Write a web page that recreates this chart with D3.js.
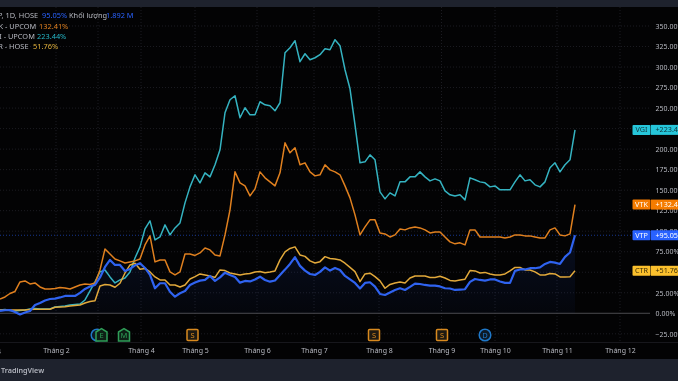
<!DOCTYPE html>
<html>
<head>
<meta charset="utf-8">
<script src="https://cdn.jsdelivr.net/npm/d3@7"></script>
<style>
  html, body { margin: 0; padding: 0; background: #030304; overflow: hidden; }
  svg { display: block; filter: blur(0.35px); }
  text { font-family: "Noto Sans", sans-serif; }
</style>
</head>
<body>
<svg id="chart" width="678" height="381"></svg>
<script>
const vgiValues = [
  4, 4.6, 3.4, 2.8, 3.4, 4, 5.2, 5.9, 5.2, 5.2,
  5.2, 7.7, 8.3, 8.9, 10.1, 10.7, 11.3, 16.2, 27.2, 38.2,
  50.4, 52.8, 44.3, 37, 40.6, 43, 50.4, 67.4, 80.9, 102.8,
  112.6, 89.4, 93, 107.7, 95.5, 104, 110.1, 134.5, 154, 168.7,
  158.9, 171.1, 166.2, 180.9, 199.1, 244.3, 260.1, 265, 238.2, 250.4,
  241.8, 241.8, 257.7, 254, 252.8, 246.7, 256.5, 317.4, 323.5, 332.1,
  306.5, 316.2, 308.9, 311.3, 315, 322.3, 321.1, 333.3, 326, 296.7,
  273.5, 229.6, 183.3, 184.5, 193, 187, 147.9, 139.4, 146.7, 143,
  160.1, 160.1, 166.2, 166.2, 172.3, 166.2, 161.3, 163.8, 161.3, 149.1,
  144.3, 143, 144.3, 138.2, 165, 162.6, 160.1, 158.9, 154, 155.2,
  150.4, 150.4, 150.4, 160.1, 168.7, 161.3, 162.6, 156.5, 154, 160.1,
  177.2, 183.3, 172.3, 180.9, 187, 223.44
];
const vtkValues = [
  17.4, 19.9, 24.1, 26.6, 38.2, 39.4, 35.7, 37, 32.1, 29.6,
  29.6, 30.2, 31.5, 30.9, 29.6, 32.1, 34.5, 35.7, 35.1, 37,
  52.8, 78.4, 72.3, 66.2, 63.8, 61.3, 62.6, 63.8, 66.2, 83.3,
  94.3, 62.6, 65, 65, 50.4, 46.7, 50.4, 72.3, 72.3, 70.5,
  73.5, 79.6, 77.2, 71.1, 69.9, 95.5, 126, 172.3, 158.9, 155.2,
  143, 151.6, 172.3, 165, 160.1, 155.2, 171.1, 207.7, 195.5, 201.6,
  180.9, 183.3, 172.3, 167.4, 168.7, 180.9, 174.7, 172.3, 168.7, 155.2,
  140.6, 119.9, 95.5, 105.2, 113.8, 113.8, 97.9, 96.7, 93, 95.5,
  102.8, 101.6, 104, 105.2, 104, 101.6, 97.9, 99.1, 99.1, 93,
  87, 84.6, 85.8, 83.3, 101.6, 101.6, 93, 93, 93, 93,
  93, 91.8, 93, 95.5, 95.5, 94.3, 94.3, 93, 91.8, 91.8,
  101.6, 104, 95.5, 94.3, 96.7, 132.41
];
const ctrValues = [
  4, 4, 4, 4, 4, 4, 4.6, 4.9, 4.9, 4.9,
  4.9, 7.3, 7.7, 8, 8.9, 9.5, 10.1, 12.6, 14.4, 15.4,
  33.3, 35.1, 34.5, 31.7, 36.6, 49.1, 58.9, 61, 53.7, 54.6,
  50.4, 44.3, 40.6, 40.6, 34.5, 34.5, 32.1, 34.5, 41.8, 44.6,
  47.9, 46.7, 45.5, 43.7, 52.8, 52, 49.1, 47.9, 46.7, 47.9,
  48.5, 50.4, 51, 49.5, 50.4, 51.6, 65, 74.8, 79, 80.9,
  71.1, 69.3, 63.8, 61.3, 62.9, 69, 66.8, 66.2, 65, 61,
  55.9, 50.7, 38.5, 47.9, 48.8, 44.6, 39.4, 30.5, 35.1, 37,
  38.2, 37, 43, 45.5, 45.5, 45.5, 43.7, 43.7, 45.1, 43,
  40, 39.4, 40.6, 41.5, 52, 51.6, 49.1, 49.8, 47.9, 46.7,
  46.7, 47.9, 51.6, 55.9, 55.9, 52.8, 52.8, 50.4, 46.7, 46.7,
  48.5, 47.9, 44.3, 44.3, 44.6, 51.76
];
const vtpValues = [
  2.8, 3.7, 4, 1.6, -1.5, 1, 2.8, 10.1, 12.6, 15.6,
  17.4, 17.8, 19.3, 21.1, 21.1, 21.1, 24.8, 29.6, 32.7, 34.5,
  43.7, 56.5, 65, 58.9, 58.9, 51.6, 54, 58.5, 61, 55.2,
  46.7, 30.5, 36.6, 36.6, 26.3, 20.2, 24.4, 27.2, 34.5, 37.6,
  39.8, 40.6, 45.5, 39.4, 43.7, 49.5, 46.7, 44.3, 37.3, 39.4,
  38.8, 41.2, 44.6, 40.6, 38.5, 40, 46.7, 53.2, 60.1, 68.3,
  57.7, 52, 47.9, 46.7, 50.4, 55.9, 52, 55.2, 52.8, 45.5,
  41.2, 37, 30.2, 37, 37.8, 32.4, 23.5, 22.3, 25.4, 28.4,
  30.5, 28.4, 32.1, 36.1, 35.7, 34.5, 33.7, 33.7, 32.7, 30.5,
  30.2, 28.4, 28.8, 29.3, 38.2, 41.8, 40.6, 39.8, 41.2, 41.2,
  38.8, 37, 37, 51.6, 53.4, 53.4, 54.9, 54.9, 55.9, 60.1,
  62.6, 61.7, 60.1, 68.7, 74.1, 95.05
];

// Axis ticks
const yTicks = [-25, 0, 25, 50, 75, 100, 125, 150, 175, 200, 225, 250, 275, 300, 325, 350];
const monthSessions = [11.2, 19.6, 28.2, 39, 51.4, 62.8, 75.8, 88.3, 99, 111.4, 124];
const monthLabels = ['Tháng 2', '', 'Tháng 4', 'Tháng 5', 'Tháng 6', 'Tháng 7', 'Tháng 8', 'Tháng 9', 'Tháng 10', 'Tháng 11', 'Tháng 12'];

// Events along the bottom of the pane
const eventSessions = [19.4, 20.3, 24.8, 38.5, 74.8, 88.4, 97];
const eventLetters = ['', 'E', 'M', 'S', 'S', 'S', 'D'];
const eventKinds = ['round', 'house', 'house', 'square', 'square', 'square', 'round'];
const eventColors = ['#1f78c8', '#2f9e58', '#2f9e58', '#d98a1f', '#d98a1f', '#d98a1f', '#1f78c8'];

const seriesNames = ['VGI', 'VTK', 'CTR', 'VTP'];
const seriesData = [vgiValues, vtkValues, ctrValues, vtpValues];
const seriesColors = ['#35b3c1', '#e0801f', '#e2a93b', '#2f63f0'];
const tagColors = ['#26c6da', '#f57c00', '#fbc02d', '#2962ff'];
const tagInk = ['#10343a', '#ffffff', '#3a2c05', '#ffffff'];

const width = 678, height = 381;
const svg = d3.select('#chart');

const x = d3.scaleLinear().domain([0, 115]).range([0, 575]);
const y = d3.scaleLinear().domain([-25, 350]).range([333.8, 26]);

// Background, top bar and footer
svg.append('rect').attr('width', width).attr('height', height).attr('fill', '#030304');
svg.append('rect').attr('width', width).attr('height', 7).attr('fill', '#1e222d');
svg.append('rect').attr('y', 359).attr('width', width).attr('height', 22).attr('fill', '#1e222d');

// Grid lines
svg.append('g').selectAll('line').data(yTicks.filter(d => d !== 0)).join('line')
    .attr('x1', 0).attr('x2', 650)
    .attr('y1', d => y(d)).attr('y2', d => y(d))
    .attr('stroke', '#1c1c22').attr('stroke-dasharray', '1 2');
svg.append('g').selectAll('line').data(monthSessions).join('line')
    .attr('x1', d => x(d)).attr('x2', d => x(d))
    .attr('y1', 7).attr('y2', 342)
    .attr('stroke', '#1c1c22').attr('stroke-dasharray', '1 2');

// Pane bottom edge and zero line
svg.append('line').attr('x1', 0).attr('x2', width).attr('y1', 342.5).attr('y2', 342.5).attr('stroke', '#17171c');
svg.append('line').attr('x1', 0).attr('x2', 650).attr('y1', y(0)).attr('y2', y(0)).attr('stroke', '#4c4c50').attr('stroke-width', 1);

// Right axis
const yAxis = svg.append('g').attr('transform', 'translate(651,0)')
    .call(d3.axisRight(y).tickValues(yTicks).tickSize(0).tickPadding(4.5).tickFormat(d => d3.format('.2f')(d).replace('-', '−') + '%'));
yAxis.select('.domain').remove();
yAxis.selectAll('text').attr('fill', '#b8bac2').attr('font-size', 7);

// Bottom axis
const xAxis = svg.append('g').attr('transform', 'translate(0,346)')
    .call(d3.axisBottom(x).tickValues(monthSessions).tickSize(0).tickPadding(2).tickFormat((d, i) => monthLabels[i]));
xAxis.select('.domain').remove();
xAxis.selectAll('text').attr('fill', '#b8bac2').attr('font-size', 7);
svg.append('text').attr('x', -7).attr('y', 354).attr('text-anchor', 'middle')
    .attr('fill', '#b8bac2').attr('font-size', 7).text('2024');

// VTP area down to the zero line, fading towards the bottom
const fade = svg.append('defs').append('linearGradient')
    .attr('id', 'vtp-fade').attr('x1', 0).attr('y1', 0).attr('x2', 0).attr('y2', 1);
fade.append('stop').attr('offset', 0).attr('stop-color', '#2962ff').attr('stop-opacity', 0.11);
fade.append('stop').attr('offset', 1).attr('stop-color', '#2962ff').attr('stop-opacity', 0.03);
const area = d3.area().x((d, i) => x(i)).y0(y(0)).y1(d => y(d));
svg.append('path').datum(vtpValues).attr('d', area).attr('fill', 'url(#vtp-fade)');

// Last value line for VTP
svg.append('line').attr('x1', 0).attr('x2', 632)
    .attr('y1', y(vtpValues[vtpValues.length - 1])).attr('y2', y(vtpValues[vtpValues.length - 1]))
    .attr('stroke', '#2962ff').attr('stroke-opacity', 0.55).attr('stroke-dasharray', '1 2');

// Series lines
const line = d3.line().x((d, i) => x(i)).y(d => y(d));
svg.append('g').selectAll('path').data(seriesData).join('path')
    .attr('d', line)
    .attr('fill', 'none')
    .attr('stroke', (d, i) => seriesColors[i])
    .attr('stroke-width', (d, i) => seriesNames[i] === 'VTP' ? 2.2 : 1.5)
    .attr('stroke-linejoin', 'round');

// Value tags on the price scale
const tags = svg.append('g').selectAll('g').data(seriesNames).join('g')
    .attr('transform', (d, i) => `translate(632.5,${y(seriesData[i][seriesData[i].length - 1])})`);
tags.append('rect').attr('x', 0).attr('y', -5).attr('width', 18).attr('height', 10).attr('rx', 1)
    .attr('fill', (d, i) => tagColors[i]);
tags.append('rect').attr('x', 18.5).attr('y', -5).attr('width', 28).attr('height', 10)
    .attr('fill', (d, i) => tagColors[i]);
tags.append('text').attr('x', 9).attr('y', 2.6).attr('text-anchor', 'middle').attr('font-size', 7.2)
    .attr('fill', (d, i) => tagInk[i]).text(d => d);
tags.append('text').attr('x', 23).attr('y', 2.6).attr('font-size', 7.2)
    .attr('fill', (d, i) => tagInk[i])
    .text((d, i) => '+' + d3.format('.2f')(seriesData[i][seriesData[i].length - 1]) + '%');

// Event markers
const events = svg.append('g').selectAll('g').data(eventSessions).join('g')
    .attr('transform', d => `translate(${x(d)},335)`);
events.each(function(d, i) {
    const g = d3.select(this);
    const c = eventColors[i];
    if (eventKinds[i] === 'round') {
        g.append('circle').attr('r', 5.8).attr('fill', '#0d1a26').attr('stroke', c).attr('stroke-width', 1.5);
    } else if (eventKinds[i] === 'square') {
        g.append('rect').attr('x', -5.5).attr('y', -5.5).attr('width', 11).attr('height', 11).attr('rx', 1)
            .attr('fill', '#1e1a12').attr('stroke', c).attr('stroke-width', 1.5);
    } else {
        g.append('path').attr('d', 'M-5.5,-3 L0,-6.3 L5.5,-3 L5.5,6 L-5.5,6 Z')
            .attr('fill', '#0d1f15').attr('stroke', c).attr('stroke-width', 1.5);
    }
    if (eventLetters[i]) {
        g.append('text').attr('y', 2.7).attr('text-anchor', 'middle').attr('font-size', 7.5)
            .attr('fill', c).text(eventLetters[i]);
    }
});

// Legend, cut off by the left edge like the source
const legendRows = [
  { y: 18, parts: [['VTP, 1D, HOSE', -10.5, '#b8bac2'], ['95.05%', 42, '#2962ff'], ['Khối lượng', 69, '#b8bac2'], ['1.892 M', 106, '#2962ff']] },
  { y: 28.5, parts: [['VTK - UPCOM', -10, '#b8bac2'], ['132.41%', 39, '#e0801f']] },
  { y: 39, parts: [['VGI - UPCOM', -10.5, '#b8bac2'], ['223.44%', 37, '#26b6c6']] },
  { y: 49, parts: [['CTR - HOSE', -10.5, '#b8bac2'], ['51.76%', 33, '#e2b13b']] }
];
legendRows.forEach(row => {
    row.parts.forEach(p => {
        svg.append('text').attr('x', p[1]).attr('y', row.y).attr('font-size', 7.4)
            .attr('fill', p[2]).text(p[0]);
    });
});

// Footer mark
svg.append('text').attr('x', 1).attr('y', 373).attr('font-size', 7.2).attr('font-weight', 600)
    .attr('fill', '#b2b5be').text('TradingView');
</script>
</body>
</html>
